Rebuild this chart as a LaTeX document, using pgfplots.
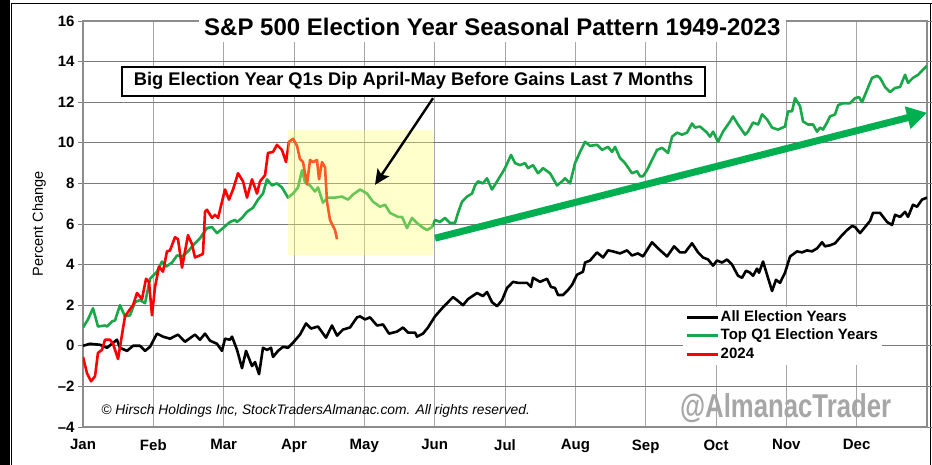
\documentclass[border=0pt]{standalone}
\usepackage{pgfplots}
\pgfplotsset{compat=1.18}
\usepackage{fontspec}
\setmainfont{Liberation Sans}
\usetikzlibrary{arrows.meta}
\definecolor{sgreen}{RGB}{24,168,72}
\definecolor{agreen}{RGB}{0,176,80}
\definecolor{sred}{RGB}{255,0,0}
\definecolor{boxyellow}{RGB}{255,255,110}
\begin{document}
\begin{tikzpicture}[x=1pt,y=1pt]
\useasboundingbox (0,0) rectangle (932,465);
\fill[white] (0,0) rectangle (932,465);
\fill[black] (0,0) rectangle (10,465);
\draw[black, line width=1.2pt] (11.5,0) -- (11.5,461.5) -- (932,461.5);
\draw[black, line width=1pt] (930.5,0) -- (930.5,461.5);
\begin{axis}[
  at={(83pt,38pt)}, anchor=south west, scale only axis,
  width=844pt, height=406pt,
  xmin=0, xmax=12, ymin=-4, ymax=16,
  clip mode=individual,
  xtick={0,...,12},
  xticklabels={Jan,Feb,Mar,Apr,May,Jun,Jul,Aug,Sep,Oct,Nov,Dec,{}},
  ytick={-4,-2,...,16},
  yticklabels={\textendash4,\textendash2,0,2,4,6,8,10,12,14,16},
  /pgf/number format/assume math mode=true,
  tick align=outside, major tick length=5pt,
  xtick style={draw=none},
  ytick style={black!50, line width=0.9pt},
  ticklabel style={font=\bfseries\fontsize{15}{15}\selectfont},
  xticklabel style={yshift=-4pt},
  xmajorgrids, ymajorgrids,
  x grid style={black!35, line width=0.7pt},
  y grid style={black!52, line width=0.9pt},
  axis line style={black!45, line width=1.2pt},
  ylabel={Percent Change},
  ylabel style={at={(axis description cs:-0.052,0.5)}, anchor=center, font=\fontsize{14.5}{14.5}\selectfont},
  legend cell align=left,
  legend style={at={(axis cs:8.53,1.92)}, anchor=north west, draw=none, fill=white,
    font=\bfseries\fontsize{15}{15}\selectfont, inner xsep=3pt, inner ysep=2pt,
    row sep=2pt, nodes={inner sep=1pt, text height=11pt, text depth=3.5pt},
    /tikz/every even column/.append style={column sep=0pt}},
  legend image code/.code={\draw[#1, line width=2.6pt] (0pt,0pt) -- (31pt,0pt);},
]
% All Election Years
\addplot[black, line width=2.6pt, line join=round] coordinates {
(0,0) (0.100,0.1) (0.242,0.05) (0.341,-0.1) (0.412,0.1) (0.483,0.3) (0.526,-0.1)
(0.626,-0.25) (0.711,0) (0.810,0) (0.882,-0.25) (0.953,-0.05) (1.052,0.6) (1.137,0.45)
(1.237,0.35) (1.351,0.55) (1.450,0.2) (1.592,0.55) (1.664,0.3) (1.735,0.6) (1.806,0.25)
(1.905,0.1) (1.976,-0.25) (2.019,0.35) (2.090,0.3) (2.119,0.45) (2.190,-0.2) (2.261,-1.1)
(2.318,-0.25) (2.403,-1.0) (2.446,-0.8) (2.503,-1.4) (2.559,-0.1) (2.616,-0.2) (2.673,-0.1)
(2.702,-0.55) (2.773,-0.25) (2.844,-0.05) (2.915,-0.1) (2.986,0.15) (3.085,0.55) (3.171,1.1)
(3.242,0.85) (3.341,0.95) (3.455,0.4) (3.540,1.0) (3.612,0.5) (3.697,0.8) (3.796,0.9)
(3.896,1.4) (3.939,1.45) (4.010,1.3) (4.081,1.4) (4.180,1.0) (4.266,1.05) (4.351,0.6)
(4.465,0.7) (4.550,0.9) (4.621,0.65) (4.721,0.65) (4.749,0.45) (4.834,0.6) (4.905,0.9)
(5.005,1.45) (5.119,1.9) (5.261,2.4) (5.318,2.25) (5.403,2.0) (5.474,2.3) (5.602,2.6)
(5.687,2.45) (5.744,2.65) (5.815,2.15) (5.887,1.95) (5.958,2.25) (6.029,2.85) (6.114,3.15)
(6.185,3.1) (6.313,3.1) (6.370,2.9) (6.398,3.35) (6.498,3.15) (6.597,3.3) (6.654,2.9)
(6.711,2.85) (6.754,2.5) (6.825,2.5) (6.896,2.75) (6.953,3.0) (7.024,3.5) (7.109,3.65)
(7.138,4.1) (7.209,4.2) (7.308,4.6) (7.394,4.35) (7.465,4.7) (7.536,4.65) (7.635,4.55)
(7.735,4.7) (7.806,4.45) (7.891,4.55) (7.962,4.4) (8.090,5.1) (8.176,4.8) (8.304,4.4)
(8.375,4.75) (8.403,4.9) (8.489,4.6) (8.560,4.6) (8.659,5.05) (8.745,4.6) (8.816,4.35)
(8.887,4.25) (8.958,3.95) (9.015,4.2) (9.086,4.1) (9.157,4.25) (9.228,4.0) (9.313,3.45)
(9.370,3.35) (9.427,3.7) (9.484,3.6) (9.527,3.45) (9.583,3.8) (9.612,3.6) (9.669,4.15)
(9.726,3.5) (9.797,2.7) (9.853,3.25) (9.910,3.1) (9.981,3.6) (10.053,4.4) (10.152,4.65)
(10.223,4.6) (10.294,4.7) (10.365,4.65) (10.437,4.8) (10.508,5.1) (10.550,4.9) (10.621,4.95)
(10.693,5.05) (10.792,5.45) (10.863,5.7) (10.934,5.9) (10.977,5.85) (11.048,5.55) (11.119,5.85)
(11.190,6.15) (11.233,6.55) (11.332,6.55) (11.432,6.1) (11.503,5.95) (11.546,6.45) (11.617,6.35)
(11.688,6.6) (11.730,6.35) (11.801,6.95) (11.858,6.85) (11.929,7.2) (12.000,7.3)
};
\addlegendentry{All Election Years}
% Top Q1 Election Years
\addplot[sgreen, line width=2.6pt, line join=round] coordinates {
(0,0.9) (0.071,1.3) (0.142,1.85) (0.213,0.95) (0.313,1.0) (0.341,0.95) (0.412,1.2)
(0.455,1.25) (0.526,2.0) (0.597,1.45) (0.668,1.5) (0.739,2.15) (0.810,2.25) (0.882,2.1)
(0.953,3.3) (1.052,3.65) (1.123,4.15) (1.180,3.9) (1.265,4.1) (1.337,4.45) (1.408,4.4)
(1.493,4.65) (1.592,5.05) (1.664,5.3) (1.763,5.8) (1.834,5.85) (1.905,5.55) (1.991,5.8)
(2.090,6.1) (2.161,6.2) (2.190,6.1) (2.261,6.3) (2.332,6.6) (2.417,6.8) (2.488,7.2)
(2.559,7.5) (2.616,8.2) (2.687,7.9) (2.758,8.0) (2.829,7.8) (2.915,7.3) (2.986,7.5)
(3.057,7.8) (3.114,8.65) (3.157,8.05) (3.228,7.9) (3.299,7.6) (3.341,7.8) (3.412,7.05)
(3.484,7.3) (3.583,7.3) (3.683,7.35) (3.768,7.2) (3.839,7.45) (3.939,7.7) (4.038,7.5)
(4.123,7.1) (4.223,6.85) (4.294,6.95) (4.365,6.55) (4.479,6.35) (4.536,6.35) (4.607,5.8)
(4.678,6.3) (4.749,6.05) (4.820,5.85) (4.891,5.7) (4.962,5.85) (5.005,6.2) (5.076,6.1)
(5.147,6.3) (5.218,6.05) (5.289,6.05) (5.332,6.55) (5.389,7.1) (5.460,7.35) (5.531,7.5)
(5.574,7.9) (5.616,8.1) (5.687,8.0) (5.744,8.25) (5.815,7.7) (5.887,8.1) (5.958,8.5)
(6.000,8.75) (6.086,9.4) (6.142,9.0) (6.213,8.9) (6.285,9.0) (6.327,8.75) (6.398,8.9)
(6.469,8.5) (6.541,8.75) (6.640,8.5) (6.740,7.9) (6.811,8.1) (6.853,8.25) (6.925,8.0)
(6.996,9.0) (7.067,9.55) (7.138,10.05) (7.209,9.85) (7.308,9.9) (7.380,9.65) (7.465,9.8)
(7.522,9.55) (7.564,9.8) (7.635,9.25) (7.706,9.0) (7.806,8.5) (7.877,8.6) (7.920,8.35)
(7.962,8.35) (8.019,8.65) (8.090,9.15) (8.161,9.65) (8.233,9.75) (8.318,9.5) (8.375,10.3)
(8.446,10.5) (8.517,10.4) (8.588,10.5) (8.659,10.95) (8.702,10.75) (8.773,10.8) (8.872,10.5)
(8.915,10.3) (8.958,10.55) (9.029,10.05) (9.100,10.55) (9.200,11.05) (9.242,11.3) (9.313,10.9)
(9.413,10.4) (9.455,10.55) (9.527,11.0) (9.598,10.9) (9.655,11.4) (9.726,11.15) (9.797,10.75)
(9.882,10.65) (9.981,10.8) (10.024,11.55) (10.081,11.55) (10.124,12.2) (10.195,11.8) (10.237,11.05)
(10.309,10.9) (10.380,10.9) (10.437,10.55) (10.479,10.75) (10.522,10.65) (10.579,11.0) (10.621,11.3)
(10.693,11.4) (10.735,11.85) (10.806,11.95) (10.906,11.95) (10.977,12.2) (11.034,12.25) (11.076,12.0)
(11.147,12.6) (11.219,13.2) (11.290,13.3) (11.332,13.2) (11.403,12.75) (11.474,12.5) (11.546,12.7)
(11.617,12.75) (11.688,13.35) (11.730,12.95) (11.801,13.2) (11.873,13.35) (11.944,13.6) (12.000,13.8)
};
\addlegendentry{Top Q1 Election Years}
% 2024
\addplot[sred, line width=2.6pt, line join=round] coordinates {
(0,-0.55) (0.057,-1.35) (0.114,-1.75) (0.171,-1.5) (0.213,-0.35) (0.270,-0.2) (0.313,0.3)
(0.384,0.3) (0.427,0.1) (0.498,-0.65) (0.597,1.45) (0.668,1.8) (0.711,2.0) (0.768,2.6)
(0.839,2.3) (0.896,3.3) (0.938,3.15) (0.981,1.5) (1.024,2.9) (1.081,3.9) (1.137,3.65)
(1.194,4.65) (1.237,4.7) (1.308,5.35) (1.351,5.25) (1.408,3.85) (1.493,5.45) (1.550,5.0)
(1.592,4.35) (1.692,4.5) (1.706,4.55) (1.735,6.6) (1.763,6.7) (1.834,6.3) (1.877,6.45)
(1.920,6.3) (2.019,7.7) (2.076,7.2) (2.133,7.7) (2.204,8.5) (2.275,8.1) (2.332,7.3)
(2.403,8.2) (2.474,7.5) (2.517,8.1) (2.588,8.4) (2.630,9.5) (2.702,9.55) (2.758,9.9)
(2.829,9.65) (2.886,9.05) (2.929,10.05) (2.986,10.2) (3.043,9.85) (3.085,9.2) (3.128,9.05)
(3.185,7.95) (3.228,9.15) (3.270,9.05) (3.327,9.15) (3.356,8.2) (3.398,9.05) (3.441,8.8)
(3.469,7.1) (3.512,6.2) (3.583,5.7) (3.612,5.25)
};
\addlegendentry{2024}
% highlight box (drawn over the lines, translucent)
\fill[boxyellow, fill opacity=0.35] (axis cs:2.915,4.48) rectangle (axis cs:4.977,10.64);
% trend arrow
\draw[agreen, line width=7pt, -{Triangle[length=20pt,width=22pt]}] (axis cs:5.005,5.3) -- (axis cs:12,11.48);
% title
\node[fill=white, inner xsep=5pt, inner ysep=6pt, font=\bfseries\fontsize{24}{24}\selectfont]
  at (axis cs:5.82,15.72) {S\&P 500 Election Year Seasonal Pattern 1949-2023};
% callout
\node[fill=white, draw=black, line width=1.8pt, inner xsep=12pt, inner ysep=6pt,
  font=\bfseries\fontsize{18.3}{18.3}\selectfont]
  at (axis cs:4.7,13.03) {Big Election Year Q1s Dip April-May Before Gains Last 7 Months};
\draw[black, line width=2.4pt, -{Stealth[length=15pt,width=14pt,inset=3pt]}] (axis cs:4.977,12.2) -- (axis cs:4.152,7.93);
% copyright
\node[anchor=west, inner sep=0pt, font=\itshape\fontsize{13.8}{13.8}\selectfont]
  at (axis cs:0.26,-3.2) {\textcopyright\ Hirsch Holdings Inc, StockTradersAlmanac.com. All rights reserved.};
% watermark
\node[inner sep=0pt, text=black!35, xscale=0.78, font=\bfseries\fontsize{33}{33}\selectfont]
  at (axis cs:9.99,-3.05) {@AlmanacTrader};
\end{axis}
\end{tikzpicture}
\end{document}
